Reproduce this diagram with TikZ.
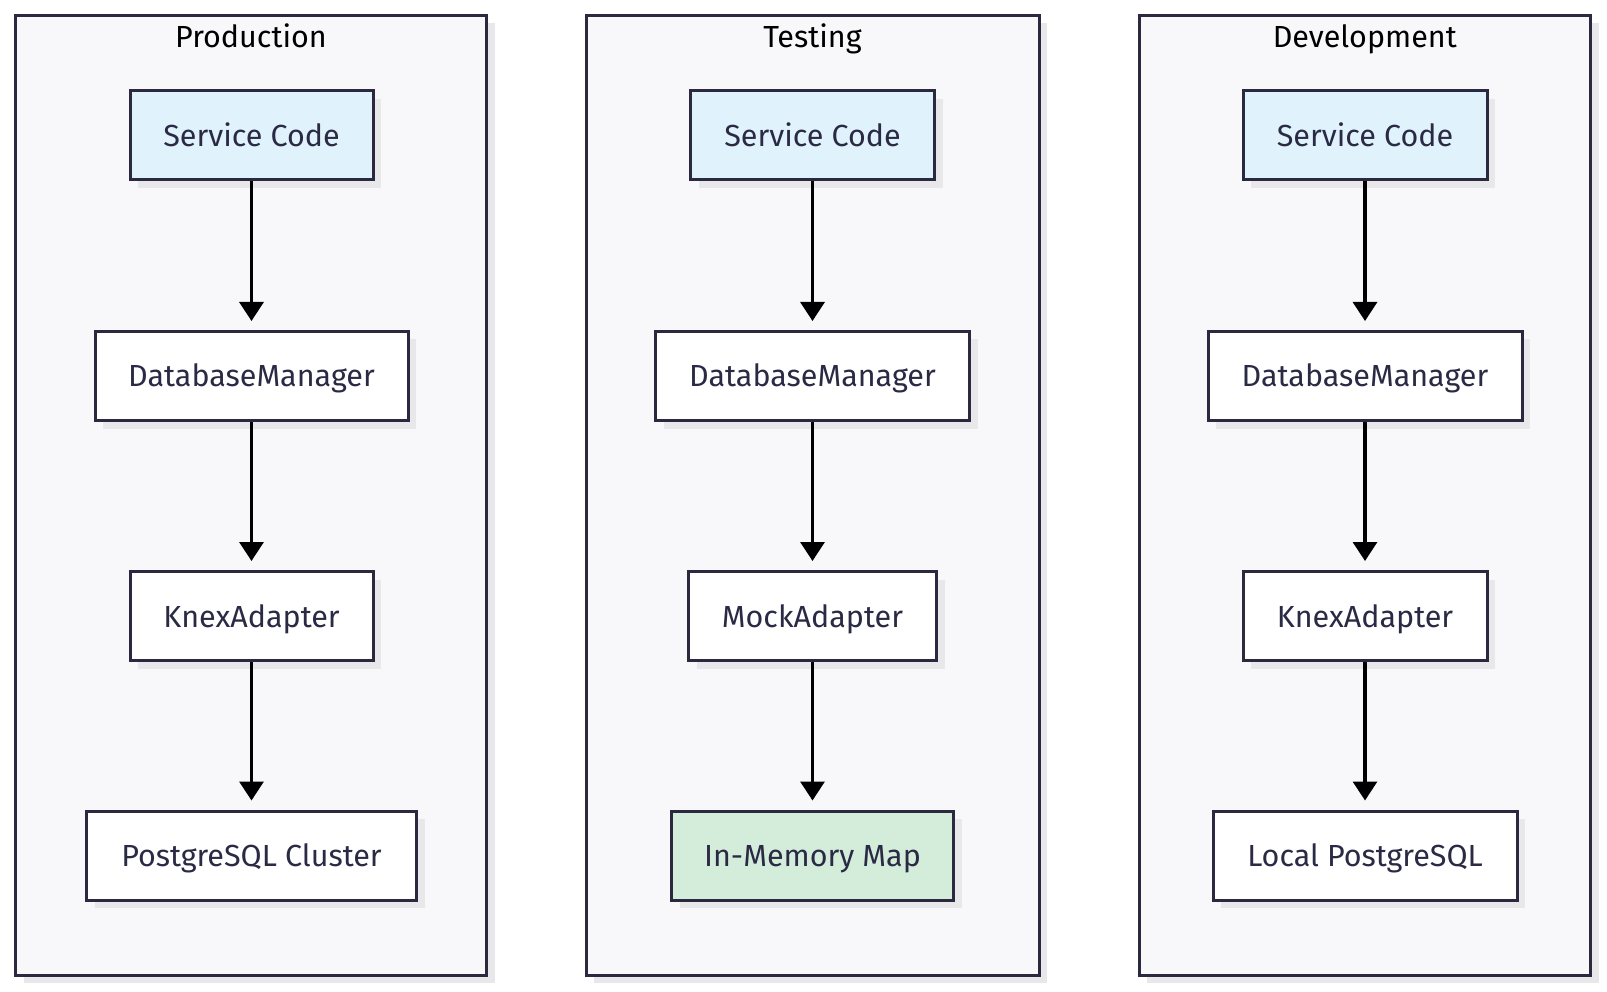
\documentclass[tikz,border=0pt]{standalone}
\usepackage{fontspec}
\setmainfont{Fira Sans}
\usetikzlibrary{arrows.meta,shadows}
\definecolor{contfill}{HTML}{F8F8FA}
\definecolor{bordc}{HTML}{2A2940}
\definecolor{textc}{HTML}{2B2A45}
\definecolor{shadc}{HTML}{E8E8EB}
\definecolor{bluef}{HTML}{E0F3FD}
\definecolor{greenf}{HTML}{D4EDDB}
\tikzset{
  container/.style={draw=bordc, line width=3pt, fill=contfill, rectangle, inner sep=0pt,
    drop shadow={shadow xshift=8pt, shadow yshift=-8pt, fill=shadc, opacity=1}},
  boxnode/.style={draw=bordc, line width=3pt, fill=white, rectangle, inner sep=0pt,
    minimum height=89pt, text height=22pt, text depth=0pt, text=textc,
    font=\fontsize{30.5}{34}\selectfont,
    drop shadow={shadow xshift=8pt, shadow yshift=-8pt, fill=shadc, opacity=1}},
  title/.style={font=\fontsize{30.5}{34}\selectfont, text=black, inner sep=0pt, anchor=base},
  flow/.style={line width=3.2pt, draw=black, shorten >=9pt, -{Triangle[width=24pt,length=19pt]}}
}
\begin{document}
\begin{tikzpicture}[x=1pt,y=-1pt]
\useasboundingbox (0,0) rectangle (1607,992);
\fill[white] (0,0) rectangle (1607,992);
% containers
\node[container, minimum width=471pt, minimum height=959.5pt] (cprod) at (251,495.25) {};
\node[container, minimum width=453pt, minimum height=959.5pt] (ctest) at (812.5,495.25) {};
\node[container, minimum width=451.5pt, minimum height=959.5pt] (cdev) at (1364.75,495.25) {};
\node[title] (tprod) at (251,47.5) {Production};
\node[title] (ttest) at (812.5,47.5) {Testing};
\node[title] (tdev) at (1364.75,47.5) {Development};
% production
\node[boxnode, fill=bluef, minimum width=243pt] (p1) at (251.5,135.5) {Service Code};
\node[boxnode, minimum width=313pt] (p2) at (251.5,376) {DatabaseManager};
\node[boxnode, minimum width=243pt] (p3) at (251.5,616) {KnexAdapter};
\node[boxnode, minimum width=330pt] (p4) at (251.5,855.5) {PostgreSQL Cluster};
% testing
\node[boxnode, fill=bluef, minimum width=244pt] (t1) at (812.5,135.5) {Service Code};
\node[boxnode, minimum width=314pt] (t2) at (812.5,376) {DatabaseManager};
\node[boxnode, minimum width=248pt] (t3) at (812.5,616) {MockAdapter};
\node[boxnode, fill=greenf, minimum width=282pt] (t4) at (812.5,855.5) {In-Memory Map};
% development
\node[boxnode, fill=bluef, minimum width=244pt] (d1) at (1365,135.5) {Service Code};
\node[boxnode, minimum width=314pt] (d2) at (1365,376) {DatabaseManager};
\node[boxnode, minimum width=244pt] (d3) at (1365,616) {KnexAdapter};
\node[boxnode, minimum width=304pt] (d4) at (1365,855.5) {Local PostgreSQL};
% arrows
\foreach \c in {p,t,d}{
  \draw[flow] (\c1.south) -- (\c2.north);
  \draw[flow] (\c2.south) -- (\c3.north);
  \draw[flow] (\c3.south) -- (\c4.north);
}
\end{tikzpicture}
\end{document}
